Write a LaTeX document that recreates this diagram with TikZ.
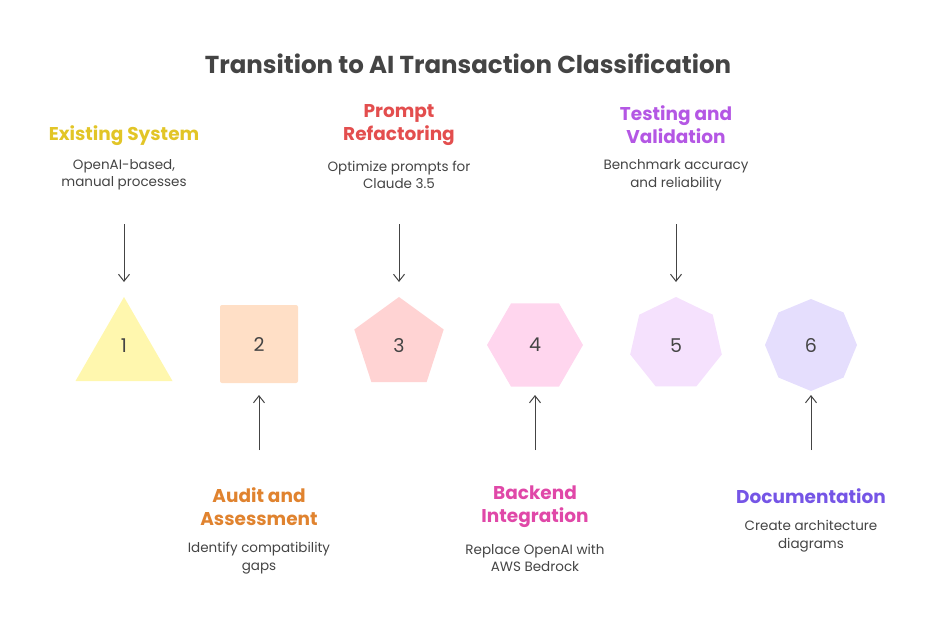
\documentclass[tikz,border=0pt]{standalone}
\usepackage{fontspec}
\setmainfont{Poppins}
\usetikzlibrary{shapes.geometric,arrows.meta}
\definecolor{cyel}{HTML}{E2C527}
\definecolor{corg}{HTML}{E0832F}
\definecolor{cred}{HTML}{E34E4E}
\definecolor{cpnk}{HTML}{E048A8}
\definecolor{cpur}{HTML}{B457E4}
\definecolor{cvio}{HTML}{7555E6}
\definecolor{ctxt}{HTML}{444444}
\definecolor{f1}{HTML}{FFF7AE}
\definecolor{f2}{HTML}{FFDFC6}
\definecolor{f3}{HTML}{FFD3D3}
\definecolor{f4}{HTML}{FFD6EE}
\definecolor{f5}{HTML}{F5E1FD}
\definecolor{f6}{HTML}{E5DEFD}
\tikzset{
  head/.style={font=\bfseries\fontsize{18.5}{23}\selectfont, align=center},
  desc/.style={font=\fontsize{13.5}{17.5}\selectfont, text=ctxt, align=center},
  num/.style={font=\fontsize{19}{20}\selectfont, text=ctxt},
  arr/.style={-{Straight Barb[length=7pt,width=11pt]}, line width=1pt, draw=ctxt},
}
\begin{document}
\begin{tikzpicture}[x=1pt,y=-1pt]
  \useasboundingbox (0,0) rectangle (936,619);
  \node[font=\bfseries\fontsize{24.5}{26}\selectfont, text=ctxt] (title) at (468,64) {Transition to AI Transaction Classification};
  % shapes
  \node[regular polygon, regular polygon sides=3, fill=f1, minimum size=112pt, inner sep=0pt] (s1) at (124,353) {};
  \node[num] at (124,346) {1};
  \node[fill=f2, minimum size=78pt, inner sep=0pt, rounded corners=2pt] (s2) at (259,344) {};
  \node[num] at (s2) {2};
  \node[regular polygon, regular polygon sides=5, fill=f3, minimum size=94pt, inner sep=0pt] (s3) at (399,344) {};
  \node[num] at (399,346) {3};
  \node[regular polygon, regular polygon sides=6, fill=f4, minimum size=96pt, inner sep=0pt] (s4) at (535,345) {};
  \node[num] at (s4) {4};
  \node[regular polygon, regular polygon sides=7, fill=f5, minimum size=94pt, inner sep=0pt] (s5) at (676,344) {};
  \node[num] at (676,346) {5};
  \node[regular polygon, regular polygon sides=8, shape border rotate=22.5, fill=f6, minimum size=92pt, inner sep=0pt] (s6) at (811,345) {};
  \node[num] at (s6) {6};
  % top labels
  \node[head, text=cyel] (h1) at (124,136) {Existing System};
  \node[desc] (d1) at (124,175) {OpenAI-based,\\manual processes};
  \node[head, text=cred] (h3) at (399,125) {Prompt\\Refactoring};
  \node[desc] (d3) at (399,175) {Optimize prompts for\\Claude 3.5};
  \node[head, text=cpur] (h5) at (676,125) {Testing and\\Validation};
  \node[desc] (d5) at (676,175) {Benchmark accuracy\\and reliability};
  % bottom labels
  \node[head, text=corg] (h2) at (259,507) {Audit and\\Assessment};
  \node[desc] (d2) at (259,558) {Identify compatibility\\gaps};
  \node[head, text=cpnk] (h4) at (535,507) {Backend\\Integration};
  \node[desc] (d4) at (535,558) {Replace OpenAI with\\AWS Bedrock};
  \node[head, text=cvio] (h6) at (811,496) {Documentation};
  \node[desc] (d6) at (811,536) {Create architecture\\diagrams};
  % arrows
  \foreach \x/\n in {124/1,399/3,676/5}{
    \coordinate (t\n) at (\x,224);
    \coordinate (e\n) at (\x,282);
    \draw[arr] (t\n) -- (e\n);
  }
  \foreach \x/\n in {259/2,535/4,811/6}{
    \coordinate (t\n) at (\x,450);
    \coordinate (e\n) at (\x,395);
    \draw[arr] (t\n) -- (e\n);
  }
\end{tikzpicture}
\end{document}
